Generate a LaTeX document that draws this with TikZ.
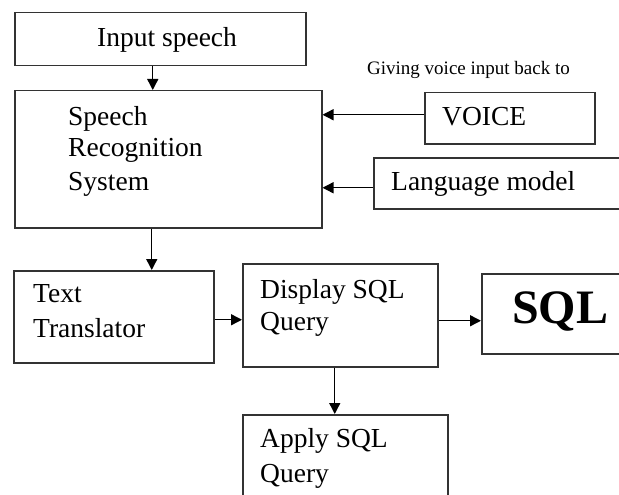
\documentclass[tikz,border=0pt]{standalone}
\usepackage{fontspec}
\setmainfont{Liberation Serif}
\usetikzlibrary{arrows.meta}
\begin{document}
\begin{tikzpicture}[x=1pt,y=-1pt,
  blk/.style={draw=black!80,line width=1.5pt,anchor=north west,inner sep=0pt},
  lbl/.style={anchor=base west,inner sep=0pt,font=\fontsize{27.5}{33}\selectfont},
  note/.style={anchor=base west,inner sep=0pt,font=\fontsize{19}{21}\selectfont},
  flow/.style={draw=black,line width=1.4pt,-{Triangle[length=11pt,width=11pt]}}]
\useasboundingbox (0,0) rectangle (619,495);
\clip (0,0) rectangle (619,495);

% boxes
\node[blk,minimum width=291pt,minimum height=53pt]  (inp)   at (14,12)  {};
\node[blk,minimum width=307pt,minimum height=137pt] (srs)   at (14,90)  {};
\node[blk,minimum width=170pt,minimum height=51pt]  (voice) at (424,92) {};
\node[blk,minimum width=267pt,minimum height=51pt]  (lang)  at (373,157){};
\node[blk,minimum width=200pt,minimum height=92pt]  (txt)   at (13,270) {};
\node[blk,minimum width=195pt,minimum height=103pt] (disp)  at (242,263){};
\node[blk,minimum width=159pt,minimum height=80pt]  (sql)   at (481,273){};
\node[blk,minimum width=205pt,minimum height=110pt] (apply) at (242,414){};

% texts
\node[lbl] (tinp) at (97,47) {Input speech};
\node[lbl] (ts1) at (68,125) {Speech};
\node[lbl] (ts2) at (68,157) {Recognition};
\node[lbl] (ts3) at (68,190) {System};
\node[note] (tnote) at (367,75) {Giving voice input back to};
\node[lbl] (tvoice) at (442,125) {VOICE};
\node[lbl] (tlang) at (391,190) {Language model};
\node[lbl] (tt1) at (33,302) {Text};
\node[lbl] (tt2) at (33,337) {Translator};
\node[lbl] (td1) at (260,298) {Display SQL};
\node[lbl] (td2) at (260,330) {Query};
\node[anchor=base west,inner sep=0pt,font=\fontsize{48}{52}\selectfont\bfseries] (tsql) at (512,323) {SQL};
\node[lbl] (ta1) at (260,447) {Apply SQL};
\node[lbl] (ta2) at (260,482) {Query};

% connectors
\draw[flow] ([xshift=-7.5pt]inp.south) -- ([xshift=-7.5pt]inp.south |- srs.north);
\draw[flow] ([yshift=3.5pt]voice.west) -- ([yshift=3.5pt]voice.west -| srs.east);
\draw[flow] ([yshift=-4.5pt]lang.west) -- ([yshift=-4.5pt]lang.west -| srs.east);
\draw[flow] ([xshift=-16.5pt]srs.south) -- ([xshift=-16.5pt]srs.south |- txt.north);
\draw[flow] ([yshift=-3pt]txt.east) -- ([yshift=-3pt]txt.east -| disp.west);
\draw[flow] ([yshift=-5.5pt]disp.east) -- ([yshift=-5.5pt]disp.east -| sql.west);
\draw[flow] ([xshift=-5.5pt]disp.south) -- ([xshift=-5.5pt]disp.south |- apply.north);
\end{tikzpicture}
\end{document}
